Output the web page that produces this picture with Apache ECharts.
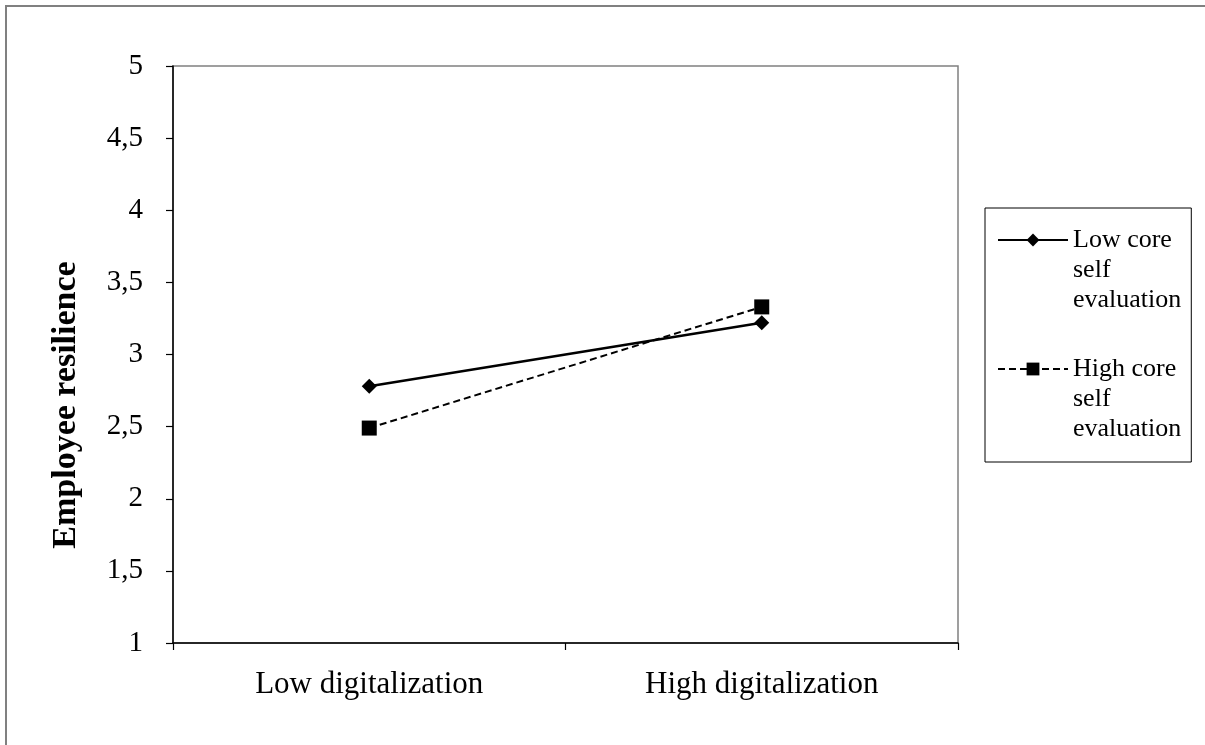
<!DOCTYPE html>
<html>
<head>
<meta charset="utf-8">
<script src="https://cdn.jsdelivr.net/npm/echarts@6/dist/echarts.min.js"></script>
<style>
html,body{margin:0;padding:0;background:#fff;}
#chart{width:1205px;height:745px;}
</style>
</head>
<body>
<div id="chart"></div>
<script>
const categories = ['Low digitalization', 'High digitalization'];
const seriesNames = ['Low core\nself\nevaluation', 'High core\nself\nevaluation'];
const lowCoreSelfEval = [2.78, 3.22];
const highCoreSelfEval = [2.49, 3.33];
const yTickLabels = ['1', '1,5', '2', '2,5', '3', '3,5', '4', '4,5', '5'];
const yAxisTitle = 'Employee resilience';

const FONT = '"Liberation Serif", "Times New Roman", serif';
const chart = echarts.init(document.getElementById('chart'), null, {renderer: 'canvas'});

chart.setOption({
  backgroundColor: '#ffffff',
  animation: false,
  textStyle: {fontFamily: FONT, color: '#000'},
  grid: {
    left: 173, top: 66, right: 247, bottom: 102,
    show: true, borderColor: '#808080', borderWidth: 1.5, backgroundColor: 'transparent'
  },
  graphic: [
    {type: 'rect', shape: {x: 6, y: 6, width: 1300, height: 800},
     style: {fill: 'none', stroke: '#808080', lineWidth: 2}, silent: true, z: -10},
    {type: 'text', x: 66, y: 405, rotation: Math.PI / 2,
     style: {text: yAxisTitle, font: 'bold 34px ' + FONT, fill: '#000', align: 'center', verticalAlign: 'middle'}}
  ],
  legend: {
    orient: 'vertical',
    left: 985, top: 208,
    itemWidth: 70, itemHeight: 16,
    itemGap: -21,
    padding: [-43, 10, 18, 12],
    borderColor: '#000', borderWidth: 1,
    data: seriesNames,
    formatter: function (name) { return '\n\n' + name; },
    textStyle: {fontFamily: FONT, fontSize: 26, lineHeight: 30, color: '#000'}
  },
  xAxis: {
    type: 'category',
    data: categories,
    boundaryGap: true,
    axisLine: {show: true, lineStyle: {color: '#000', width: 1.5}},
    axisTick: {show: true, length: 7, lineStyle: {color: '#000', width: 1.2}},
    axisLabel: {fontFamily: FONT, fontSize: 31, color: '#000', margin: 26},
    splitLine: {show: false}
  },
  yAxis: {
    type: 'value',
    min: 1, max: 5, interval: 0.5,
    axisLine: {show: true, lineStyle: {color: '#000', width: 1.5}},
    axisTick: {show: true, length: 7, lineStyle: {color: '#000', width: 1.2}},
    axisLabel: {
      fontFamily: FONT, fontSize: 29, color: '#000', margin: 30,
      formatter: function (v) { return yTickLabels[Math.round((v - 1) / 0.5)]; }
    },
    splitLine: {show: false}
  },
  series: [
    {
      name: seriesNames[0], type: 'line', data: lowCoreSelfEval,
      symbol: 'diamond', symbolSize: 15,
      lineStyle: {color: '#000', width: 2.5, type: 'solid'},
      itemStyle: {color: '#000'}
    },
    {
      name: seriesNames[1], type: 'line', data: highCoreSelfEval,
      symbol: 'rect', symbolSize: 15,
      lineStyle: {color: '#000', width: 2, type: [7, 4]},
      itemStyle: {color: '#000'}
    }
  ]
});
</script>
</body>
</html>
